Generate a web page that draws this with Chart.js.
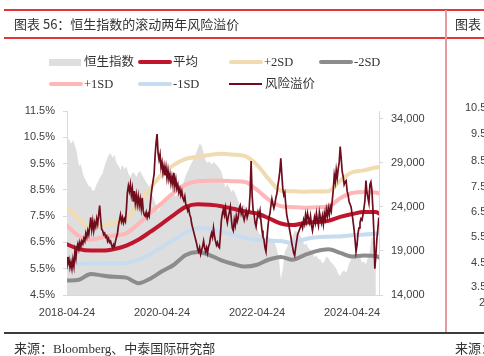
<!DOCTYPE html>
<html><head><meta charset="utf-8">
<script src="https://cdn.jsdelivr.net/npm/chart.js@4.4.1/dist/chart.umd.min.js"></script>
<style>
html,body{margin:0;padding:0;background:#fff;}
#wrap{position:relative;width:484px;height:356px;overflow:hidden;}
#c{position:absolute;left:0;top:0;}
.hl{position:absolute;left:4px;width:480px;}
.tx{position:absolute;white-space:nowrap;color:#333;font-family:"Noto Sans CJK SC",sans-serif;}
.lat{font-family:"Liberation Serif","Noto Sans CJK SC",serif;}
.lg{position:absolute;white-space:nowrap;font-size:12.5px;line-height:16px;color:#333;font-family:"Liberation Serif","Noto Sans CJK SC",serif;}
.sw{position:absolute;}
.nx{position:absolute;font-family:"Liberation Sans",sans-serif;font-size:11px;color:#404040;white-space:nowrap;}
</style></head>
<body>
<div id="wrap">
<canvas id="c" width="484" height="356"></canvas>
<div class="hl" style="top:9px;height:2px;background:#e2353a"></div>
<div class="hl" style="top:37px;height:1.5px;background:#e2353a"></div>
<div style="position:absolute;left:445px;top:10px;width:2px;height:323px;background:#e39b9e"></div>
<div class="hl" style="top:332px;height:1.5px;background:#3c3c3c"></div>
<div class="tx" style="left:14px;top:15px;font-size:13px;line-height:18px">图表 56：恒生指数的滚动两年风险溢价</div>
<div class="tx" style="left:455px;top:15px;font-size:13px;line-height:18px">图表</div>
<div class="tx" style="left:14px;top:339px;font-size:13px;line-height:18px">来源：<span class="lat">Bloomberg</span>、中泰国际研究部</div>
<div class="tx" style="left:455px;top:339px;font-size:13px;line-height:18px">来源：</div>
<div id="legend"></div>
<div id="nextAxis"></div>
</div>
<script>
// ---------- data ----------
// x unit: months elapsed since 2018-04-24
const xTickMonths = [0, 24, 48, 72];
const xTickLabels = ['2018-04-24', '2020-04-24', '2022-04-24', '2024-04-24'];
const leftTicks = [4.5, 5.5, 6.5, 7.5, 8.5, 9.5, 10.5, 11.5];
const rightTicks = [14000, 19000, 24000, 29000, 34000];
const nextChartTicks = ['10.5%', '9.5%', '8.5%', '7.5%', '6.5%', '5.5%', '4.5%', '3.5%', '2'];

// Hang Seng Index, one reading every half month
const hsiStep = 0.5;
const hsiValues = [
 31000,31800,31200,31600,31000,30200,28700,28900,27800,27200,
 26800,26400,26300,25800,26000,26600,27000,27500,27800,28700,
 29300,29900,30100,29600,29900,29000,28700,28200,28800,28300,
 28600,27800,27400,27900,27900,27400,27900,28100,27600,27200,
 26800,26500,26000,25400,24800,24200,23500,23900,24300,24500,
 25000,24800,25600,25300,25800,25200,25600,25900,26400,26900,
 27600,28100,28600,29000,29500,30000,30600,31200,31000,30100,
 29300,29000,29200,28800,29100,28900,28700,28400,28000,27100,
 26200,26600,26200,25700,26000,25500,25000,24300,24000,24300,
 24100,23600,23800,23300,22800,22200,21700,21000,20800,21100,
 20500,20900,20600,20100,20400,19900,19200,18300,15800,16900,
 18900,19400,19800,20300,20600,21300,21200,20900,20700,20100,
 19700,19800,19300,19100,18900,18300,18500,18100,18000,17600,
 17800,18400,18200,17800,17600,17300,17000,16400,16200,16600,
 16800,16500,17200,17800,18200,18700,18900,18500,18300,17700,
 17800,17500,18300,19000,20700,20000,19200];

// rolling statistics bands (%), sampled at bandMonths
const bandMonths = [0,3,6,9,12,15,18,21,24,27,30,33,36,39,42,45,48,51,54,57,60,63,66,69,72,75,78,78.8];
const meanValues  = [6.43,6.25,6.19,6.19,6.25,6.38,6.60,6.90,7.22,7.55,7.85,7.95,7.93,7.88,7.78,7.68,7.60,7.42,7.22,7.16,7.24,7.28,7.32,7.47,7.58,7.66,7.66,7.60];
const plus2Values = [7.85,7.38,7.05,7.15,7.25,7.38,7.95,8.55,9.10,9.45,9.68,9.76,9.83,9.87,9.84,9.78,9.45,8.90,8.47,8.45,8.43,8.44,8.45,8.85,9.17,9.24,9.35,9.36];
const plus1Values = [7.13,6.75,6.60,6.70,6.76,6.85,7.20,7.62,8.00,8.40,8.70,8.83,8.85,8.85,8.83,8.80,8.50,8.12,7.88,7.84,7.82,7.84,7.87,8.18,8.38,8.42,8.40,8.37];
const minus1Values = [5.78,5.68,5.70,5.71,5.71,5.72,5.84,6.05,6.32,6.60,6.88,7.05,7.02,6.90,6.80,6.68,6.60,6.57,6.55,6.48,6.62,6.70,6.72,6.73,6.77,6.80,6.84,6.85];
const minus2Values = [5.05,5.08,5.30,5.24,5.19,5.16,4.95,5.12,5.40,5.65,6.02,6.14,6.02,5.82,5.68,5.58,5.65,5.85,5.95,5.84,6.02,6.17,6.24,6.10,5.96,6.00,5.98,5.93];

// risk premium (%), one reading every quarter month (about weekly)
const rpStep = 0.25;
const rpValues = [
 5.95,5.70,5.85,5.55,5.75,5.50,5.85,5.60,6.15,5.90,
 6.30,6.45,6.25,6.50,6.35,6.55,6.45,6.65,6.55,6.85,
 6.70,6.95,6.80,7.10,7.45,7.00,7.30,6.95,7.25,7.10,
 7.40,7.20,7.55,7.90,7.40,7.00,6.95,6.80,6.85,6.70,
 6.75,6.55,6.65,6.50,6.55,6.40,6.30,6.42,6.35,6.55,
 6.70,6.85,7.15,7.35,7.55,7.30,7.45,7.25,7.40,7.30,
 7.75,8.40,8.65,8.45,8.70,8.30,8.55,8.05,8.45,8.00,
 8.30,7.95,8.25,7.90,8.15,7.80,8.20,7.70,7.55,7.50,
 7.65,7.45,7.60,7.50,7.90,8.30,8.60,8.85,9.10,9.80,
 10.30,10.62,9.90,9.65,
 9.85,9.35,9.55,9.15,9.40,9.05,9.35,8.95,9.25,8.90,
 9.10,8.75,9.00,8.70,9.15,8.65,8.90,8.55,8.70,8.40,
 8.55,8.30,8.45,8.20,8.10,8.25,7.95,7.85,7.70,7.80,
 7.55,7.45,7.20,7.05,6.90,6.75,6.60,6.45,6.25,6.15,
 6.30,6.05,6.20,6.35,6.55,6.30,6.15,6.30,6.10,6.35,
 6.45,6.70,6.85,6.70,7.05,6.75,6.55,6.40,6.50,6.35,
 6.30,6.80,7.35,7.60,7.75,7.55,7.80,7.45,7.25,7.50,7.65,
 7.85,7.40,7.05,6.95,7.35,7.15,7.50,7.30,7.45,7.80,
 7.90,7.60,7.75,7.50,7.35,7.55,7.70,7.45,7.60,7.75,
 8.40,9.60,8.30,7.75,7.55,7.25,7.10,7.40,7.65,7.50,
 7.70,7.30,6.95,6.70,6.60,6.30,6.15,6.65,7.10,7.45,
 7.60,7.90,8.15,7.95,7.80,7.95,8.20,8.35,8.65,8.90,
 9.20,9.70,9.10,8.55,8.30,8.40,7.95,7.55,7.35,7.20,
 6.95,6.75,6.50,6.30,6.10,6.00,6.30,6.55,6.80,6.90,7.00,
 7.10,7.20,7.05,7.35,7.20,7.55,7.30,7.60,7.40,7.25,
 7.50,7.15,6.95,7.20,7.45,7.25,7.60,7.35,7.15,7.65,
 7.45,7.25,7.50,7.20,7.60,7.40,7.75,7.50,7.80,7.55,
 7.85,7.70,8.10,8.50,9.05,8.80,9.25,8.95,9.30,9.55,
 10.15,9.70,9.20,9.00,8.70,8.80,8.85,8.45,8.30,8.05,7.95,
 7.85,7.60,7.30,7.00,6.60,6.15,6.40,6.85,7.05,7.25,
 7.40,7.35,7.55,7.80,8.10,8.85,8.40,8.20,8.00,8.70,
 8.80,8.50,7.80,6.90,5.50,6.00,6.60,7.00,7.45];

const xMax = 78.8;

// ---------- build ----------
const stepPts = (vals, step) => vals.map((v, i) => ({x: i * step, y: v}));
const bandPts = (vals) => vals.map((v, i) => ({x: bandMonths[i], y: v}));

const COLORS = {hsi:'#dedede', mean:'#c0162d', p2:'#f0dcb0', m2:'#8c8c8c', p1:'#ffb6b6', m1:'#c8dcf0', rp:'#700c1b'};

const bandDs = (label, vals, color, order) => ({
  label, data: bandPts(vals), yAxisID:'y', borderColor: color, backgroundColor: color,
  borderWidth: 4, pointRadius: 0, cubicInterpolationMode:'monotone', fill:false, order,
  borderCapStyle:'round', borderJoinStyle:'round'
});

const datasets = [
  {label:'风险溢价', data: stepPts(rpValues, rpStep), yAxisID:'y', borderColor: COLORS.rp,
   backgroundColor: COLORS.rp, borderWidth:1.7, pointRadius:0, tension:0, fill:false, order:0, borderJoinStyle:'miter'},
  bandDs('平均', meanValues, COLORS.mean, 1),
  bandDs('+2SD', plus2Values, COLORS.p2, 5),
  bandDs('-2SD', minus2Values, COLORS.m2, 2),
  bandDs('+1SD', plus1Values, COLORS.p1, 4),
  bandDs('-1SD', minus1Values, COLORS.m1, 3),
  {label:'恒生指数', data: stepPts(hsiValues, hsiStep), yAxisID:'y2', borderWidth:0,
   borderColor: COLORS.hsi, backgroundColor: COLORS.hsi, pointRadius:0, fill:'start', tension:0, order:10}
];

const tickFont = {family:'"Liberation Sans", sans-serif', size:11};

new Chart(document.getElementById('c'), {
  type:'line',
  data:{datasets},
  options:{
    responsive:false, animation:false, devicePixelRatio:1,
    layout:{padding:{top:111, left:0, right:0, bottom:0}},
    plugins:{legend:{display:false}, tooltip:{enabled:false}},
    scales:{
      x:{type:'linear', min:0, max:xMax,
        grid:{display:false, drawTicks:false},
        border:{display:true, color:'#d9d9d9'},
        afterBuildTicks:(ax)=>{ax.ticks = xTickMonths.map(v=>({value:v}));},
        afterFit:(ax)=>{ax.height = 61;},
        ticks:{autoSkip:false, maxRotation:0, padding:11, color:'#404040', font:tickFont,
          callback:(v)=>xTickLabels[xTickMonths.indexOf(v)] ?? ''}},
      y:{type:'linear', position:'left', min:4.5, max:11.5,
        afterBuildTicks:(ax)=>{ax.ticks = leftTicks.map(v=>({value:v}));},
        afterFit:(ax)=>{ax.width = 67;},
        grid:{drawOnChartArea:false, drawTicks:true, tickLength:4, color:'#d9d9d9'},
        border:{display:true, color:'#d9d9d9'},
        ticks:{padding:8, color:'#404040', font:tickFont, callback:(v)=>v.toFixed(1)+'%'}},
      y2:{type:'linear', position:'right', min:14000, max:34909,
        afterBuildTicks:(ax)=>{ax.ticks = rightTicks.map(v=>({value:v}));},
        afterFit:(ax)=>{ax.width = 105;},
        grid:{drawOnChartArea:false, drawTicks:true, tickLength:4, color:'#d9d9d9'},
        border:{display:true, color:'#d9d9d9'},
        ticks:{padding:8, color:'#404040', font:tickFont, callback:(v)=>v.toLocaleString('en-US')}}
    }
  }
});

// ---------- legend (HTML, from dataset styles) ----------
const legendLayout = [
  {label:'恒生指数', col:0, row:0, kind:'box'},
  {label:'平均', col:1, row:0},
  {label:'+2SD', col:2, row:0},
  {label:'-2SD', col:3, row:0},
  {label:'+1SD', col:0, row:1},
  {label:'-1SD', col:1, row:1},
  {label:'风险溢价', col:2, row:1, kind:'thin'}
];
const colX = [49, 138, 229, 319], rowY = [62, 84];
const lg = document.getElementById('legend');
legendLayout.forEach(it => {
  const ds = datasets.find(d => d.label === it.label);
  const x = colX[it.col], y = rowY[it.row];
  const sw = document.createElement('div');
  sw.className = 'sw';
  if (it.kind === 'box') {
    Object.assign(sw.style, {left:x+'px', top:(y-3)+'px', width:'32px', height:'7px', background:ds.backgroundColor});
  } else if (it.kind === 'thin') {
    Object.assign(sw.style, {left:x+'px', top:(y-1)+'px', width:'33px', height:'2px', background:ds.borderColor});
  } else {
    Object.assign(sw.style, {left:x+'px', top:(y-2)+'px', width:'34px', height:'4px', background:ds.borderColor, borderRadius:'2px'});
  }
  lg.appendChild(sw);
  const t = document.createElement('div');
  t.className = 'lg';
  t.textContent = it.label;
  t.style.left = (x + (it.kind === 'thin' ? 36 : 35)) + 'px';
  t.style.top = (y - 8) + 'px';
  lg.appendChild(t);
});

// ---------- neighbouring chart (cropped at right edge) ----------
const nxTop = [101, 127, 154, 180, 205, 230, 256, 280, 296];
const nxLeft = [465, 471, 471, 471, 471, 471, 471, 471, 479];
const na = document.getElementById('nextAxis');
nextChartTicks.forEach((s, i) => {
  const d = document.createElement('div');
  d.className = 'nx';
  d.textContent = s;
  d.style.left = nxLeft[i] + 'px';
  d.style.top = nxTop[i] + 'px';
  na.appendChild(d);
});
</script>
</body></html>
